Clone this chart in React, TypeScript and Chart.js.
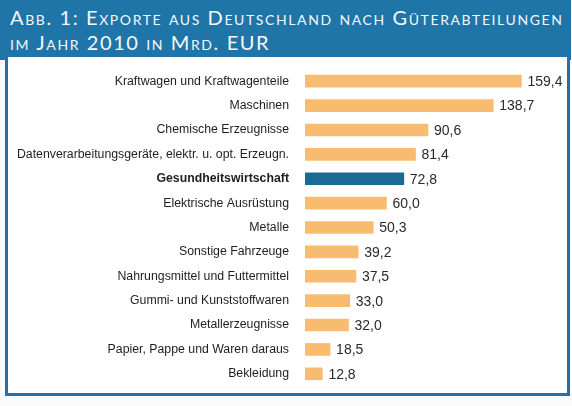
import React, { useEffect, useRef } from "react";
import { Chart, registerables } from "chart.js";

Chart.register(...registerables);

const categories: string[] = [
  "Kraftwagen und Kraftwagenteile",
  "Maschinen",
  "Chemische Erzeugnisse",
  "Datenverarbeitungsgeräte, elektr. u. opt. Erzeugn.",
  "Gesundheitswirtschaft",
  "Elektrische Ausrüstung",
  "Metalle",
  "Sonstige Fahrzeuge",
  "Nahrungsmittel und Futtermittel",
  "Gummi- und Kunststoffwaren",
  "Metallerzeugnisse",
  "Papier, Pappe und Waren daraus",
  "Bekleidung",
];

const values: number[] = [159.4, 138.7, 90.6, 81.4, 72.8, 60.0, 50.3, 39.2, 37.5, 33.0, 32.0, 18.5, 12.8];

const highlightLabel = "Gesundheitswirtschaft";

const titleLine1 = "Abb. 1: Exporte aus Deutschland nach Güterabteilungen";
const titleLine2 = "im Jahr 2010 in Mrd. EUR";

const ORANGE = "#f8bc70";
const TEAL = "#1b6a94";

const valueLabelPlugin = {
  id: "valueLabels",
  afterDatasetsDraw(chart: any) {
    const ctx = chart.ctx;
    const meta = chart.getDatasetMeta(0);
    ctx.save();
    ctx.font = "14px 'Liberation Sans', Arial, sans-serif";
    ctx.fillStyle = "#2a2a2a";
    ctx.textAlign = "left";
    ctx.textBaseline = "middle";
    meta.data.forEach((bar: any, i: number) => {
      const v = values[i];
      const txt = v.toFixed(1).replace(".", ",");
      ctx.fillText(txt, bar.x + 6, bar.y + 1);
    });
    ctx.restore();
  },
};

export default function App() {
  const canvasRef = useRef<HTMLCanvasElement | null>(null);

  useEffect(() => {
    if (!canvasRef.current) return;
    const chart = new Chart(canvasRef.current, {
      type: "bar",
      data: {
        labels: categories,
        datasets: [
          {
            data: values,
            backgroundColor: categories.map((c) => (c === highlightLabel ? TEAL : ORANGE)),
            barThickness: 12,
            borderWidth: 0,
          },
        ],
      },
      options: {
        indexAxis: "y",
        animation: false,
        responsive: false,
        maintainAspectRatio: false,
        layout: { padding: { top: 12, bottom: 7, left: 0, right: 0 } },
        plugins: {
          legend: { display: false },
          tooltip: { enabled: false },
          title: { display: false },
        },
        scales: {
          x: {
            display: false,
            min: 0,
            max: 193,
          },
          y: {
            afterFit: (scale: any) => {
              scale.width = 297;
              scale.paddingTop = 0;
              scale.paddingBottom = 0;
            },
            grid: { display: false, drawTicks: false },
            border: { display: false },
            ticks: {
              padding: 16,
              color: "#1e1e1e",
              font: (ctx: any) => {
                const lbl = categories[ctx.index];
                return {
                  family: "'Liberation Sans', Arial, sans-serif",
                  size: 12.3,
                  weight: lbl === highlightLabel ? "bold" : "normal",
                };
              },
            },
          },
        },
      },
      plugins: [valueLabelPlugin],
    } as any);
    return () => chart.destroy();
  }, []);

  return (
    <div
      style={{
        position: "fixed",
        left: 0,
        top: 0,
        width: 572,
        height: 406,
        background: "#fbfbfb",
        overflow: "hidden",
      }}
    >
      <div
        style={{
          position: "absolute",
          left: 0,
          top: 0,
          width: 571,
          height: 60,
          background: "#1f74a8",
          color: "#f4f8fb",
          fontFamily: "Lato, 'Open Sans', sans-serif",
          fontVariant: "small-caps",
          fontSize: 20,
          letterSpacing: 1.6,
          lineHeight: "25px",
          paddingLeft: 10,
          paddingTop: 5,
          boxSizing: "border-box",
          whiteSpace: "nowrap",
        }}
      >
        <div>{titleLine1}</div>
        <div>{titleLine2}</div>
      </div>
      <div
        style={{
          position: "absolute",
          left: 5,
          top: 57,
          width: 565,
          height: 339,
          border: "3px solid #2470ad",
          borderTop: "none",
          background: "#ffffff",
          boxSizing: "border-box",
        }}
      >
        <canvas ref={canvasRef} width={559} height={336} style={{ display: "block", position: "absolute", left: 0, top: 0 }} />
      </div>
    </div>
  );
}
